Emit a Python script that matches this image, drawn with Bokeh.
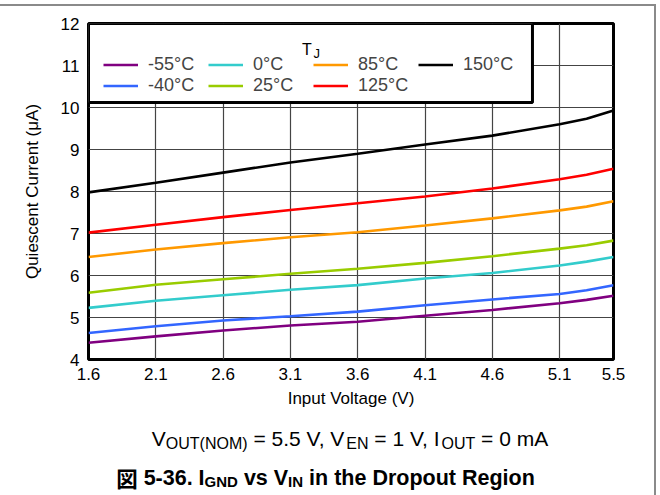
from bokeh.plotting import figure
from bokeh.layouts import column
from bokeh.models import Legend, LegendItem, FixedTicker, Range1d, BoxAnnotation
from bokeh.core.properties import value
from bokeh.embed import file_html
from bokeh.resources import INLINE

# ---------------- data ----------------
vin = [1.6, 2.1, 2.6, 3.1, 3.6, 4.1, 4.6, 5.1, 5.3, 5.5]
iq_m55 = [4.40, 4.55, 4.69, 4.81, 4.90, 5.04, 5.18, 5.34, 5.42, 5.52]
iq_m40 = [4.63, 4.79, 4.93, 5.03, 5.14, 5.29, 5.43, 5.56, 5.65, 5.77]
iq_0 = [5.23, 5.40, 5.53, 5.66, 5.77, 5.93, 6.06, 6.24, 6.33, 6.44]
iq_25 = [5.59, 5.78, 5.91, 6.04, 6.16, 6.30, 6.46, 6.64, 6.72, 6.83]
iq_85 = [6.44, 6.62, 6.77, 6.91, 7.03, 7.19, 7.36, 7.55, 7.64, 7.77]
iq_125 = [7.02, 7.21, 7.39, 7.56, 7.72, 7.88, 8.07, 8.29, 8.40, 8.54]
iq_150 = [7.98, 8.21, 8.45, 8.69, 8.90, 9.12, 9.33, 9.60, 9.73, 9.93]

series_labels = ["-55°C", "-40°C", "0°C", "25°C", "85°C", "125°C", "150°C"]
series_values = [iq_m55, iq_m40, iq_0, iq_25, iq_85, iq_125, iq_150]
series_colors = ["#800080", "#3366ff", "#33cccc", "#99cc00", "#ff9900", "#ff0000", "#000000"]

x_ticks = [1.6, 2.1, 2.6, 3.1, 3.6, 4.1, 4.6, 5.1, 5.5]
x_tick_labels = ["1.6", "2.1", "2.6", "3.1", "3.6", "4.1", "4.6", "5.1", "5.5"]
y_ticks = [4, 5, 6, 7, 8, 9, 10, 11, 12]

x_label = "Input Voltage (V)"
y_label = "Quiescent Current (μA)"
legend_title = ("T", "J")
subtitle_parts = [("V", False), ("OUT(NOM)", True), (" = 5.5 V, V", False), ("EN", True),
                  (" = 1 V, I", False), ("OUT", True), (" = 0 mA", False)]
caption_parts = [("図", "cjk"), (" 5-36. I", "main"), ("GND", "sub"), (" vs V", "main"),
                 ("IN", "sub"), (" in the Dropout Region", "main")]

FONT = "Liberation Sans"

# Arial-compatible advance widths (1/1000 em)
W_REG = {' ': 278, '=': 584, '.': 278, ',': 278, '0': 556, '1': 556, '2': 556, '3': 556, '4': 556,
         '5': 556, '6': 556, '7': 556, '8': 556, '9': 556, 'V': 667, 'O': 778, 'U': 722, 'T': 611,
         '(': 333, ')': 333, 'N': 722, 'M': 833, 'E': 667, 'I': 278, 'm': 833, 'A': 667}
W_BOLD = {' ': 278, '-': 333, '.': 278, '0': 556, '1': 556, '2': 556, '3': 556, '4': 556, '5': 556,
          '6': 556, '7': 556, '8': 556, '9': 556, 'I': 278, 'G': 778, 'N': 722, 'D': 722, 'v': 556,
          's': 556, 'V': 667, 'i': 278, 'n': 611, 't': 333, 'h': 611, 'e': 556, 'r': 389, 'o': 611,
          'p': 611, 'u': 611, 'R': 722, 'g': 611}


def tw(s, size, table):
    return sum(table.get(c, 1000) for c in s) * size / 1000.0


WIDTH = 654
TOP, FRAME_W, FRAME_H, BOTTOM = 17, 525, 336, 60
LEFT = 88
RIGHT = WIDTH - LEFT - FRAME_W
CAP_H = 76

# ---------------- main figure ----------------
p = figure(frame_width=FRAME_W, frame_height=FRAME_H,
           min_border_left=LEFT, min_border_right=RIGHT,
           min_border_top=TOP, min_border_bottom=BOTTOM,
           x_range=Range1d(1.6, 5.5), y_range=Range1d(4, 12),
           output_backend="svg", toolbar_location=None)

p.background_fill_color = "white"
p.border_fill_color = "white"
p.outline_line_color = "black"
p.outline_line_width = 3

p.xaxis.ticker = FixedTicker(ticks=x_ticks)
p.xaxis.major_label_overrides = {t: l for t, l in zip(x_ticks, x_tick_labels)}
p.yaxis.ticker = FixedTicker(ticks=y_ticks)

for ax in (p.xaxis[0], p.yaxis[0]):
    ax.axis_line_color = None
    ax.major_tick_line_color = None
    ax.minor_tick_line_color = None
    ax.major_tick_out = 0
    ax.major_tick_in = 0
    ax.major_label_text_font = FONT
    ax.major_label_text_font_size = "17px"
    ax.major_label_text_color = "black"
    ax.axis_label_text_font = FONT
    ax.axis_label_text_font_size = "17px"
    ax.axis_label_text_font_style = "normal"
    ax.axis_label_text_color = "black"

p.xaxis.axis_label = x_label
p.yaxis.axis_label = y_label
p.xaxis.major_label_standoff = 8
p.xaxis.axis_label_standoff = 6
p.yaxis.major_label_standoff = 9
p.yaxis.axis_label_standoff = 16

p.xgrid.ticker = FixedTicker(ticks=x_ticks)
p.ygrid.ticker = FixedTicker(ticks=y_ticks)
p.grid.grid_line_color = "#444444"
p.grid.grid_line_width = 1.2

# white legend panel (covers the grid), drawn just above the grid lines
legend_box = BoxAnnotation(left=1.6, right=4.898, bottom=10.12, top=12.0, level="underlay",
                           fill_color="white", fill_alpha=1.0,
                           line_color="black", line_width=3, line_alpha=1.0)
p.add_layout(legend_box)

renderers = []
for lab, vals, col in zip(series_labels, series_values, series_colors):
    r = p.line(vin, vals, line_color=col, line_width=2.6)
    renderers.append(r)

# legend title T_J as text glyphs
p.text(x=[3.186], y=[11.381], text=[legend_title[0]], text_font=value(FONT),
       text_font_size=value("16px"), text_baseline="alphabetic", text_align="left",
       text_color="black")
p.text(x=[3.271], y=[11.286], text=[legend_title[1]], text_font=value(FONT),
       text_font_size=value("13px"), text_baseline="alphabetic", text_align="left",
       text_color="black")

legend = Legend(items=[LegendItem(label=l, renderers=[r]) for l, r in zip(series_labels, renderers)],
                location="top_left", orientation="vertical", nrows=2,
                glyph_width=35, glyph_height=15, label_height=15, label_width=60,
                label_standoff=10, spacing=0, padding=0, margin=15,
                border_line_color=None, background_fill_alpha=0.0,
                label_text_font=FONT, label_text_font_size="18px", label_text_line_height=1.05,
                title=" ", title_text_font_size="10px", title_standoff=5)
p.add_layout(legend, "center")

# ---------------- caption figure (texts below the chart) ----------------
q = figure(frame_width=FRAME_W, frame_height=CAP_H,
           min_border_left=LEFT, min_border_right=RIGHT, min_border_top=0, min_border_bottom=0,
           x_range=Range1d(LEFT, LEFT + FRAME_W), y_range=Range1d(CAP_H, 0),
           x_axis_type=None, y_axis_type=None, output_backend="svg", toolbar_location=None)
q.outline_line_color = None
q.background_fill_color = "white"
q.border_fill_color = "white"
q.grid.visible = False


def put(fig, x, y, s, font, size, style, table_w):
    """Place a text piece; leading spaces become an x offset (SVG collapses them)."""
    stripped = s.lstrip(" ")
    lead = (len(s) - len(stripped)) * 0.278 * size
    r = fig.text(x=[x + lead], y=[y], text=[stripped], text_font=value(font),
                 text_font_size=value(f"{size}px"), text_font_style=style,
                 text_baseline="alphabetic", text_align="left", text_color="black")
    r.level = "overlay"
    return x + table_w


# subtitle with subscripts
SUB_MAIN, SUB_SUB = 21, 16
total = sum(tw(s, SUB_SUB if sub else SUB_MAIN, W_REG) for s, sub in subtitle_parts)
x = 349.5 - total / 2
for s, sub in subtitle_parts:
    size = SUB_SUB if sub else SUB_MAIN
    x = put(q, x, 24 if sub else 19, s, FONT, size, "normal", tw(s, size, W_REG))

# caption
CAP_MAIN, CAP_SUB = 21.5, 15


def cap_w(s, kind):
    if kind == "cjk":
        return CAP_MAIN * len(s)
    return tw(s, CAP_SUB if kind == "sub" else CAP_MAIN, W_BOLD)


total = sum(cap_w(s, k) for s, k in caption_parts)
x = 325 - total / 2
for s, k in caption_parts:
    size = CAP_SUB if k == "sub" else CAP_MAIN
    font = "Noto Sans CJK JP" if k == "cjk" else FONT
    x = put(q, x, 62 if k == "sub" else 58, s, font, size, "bold", cap_w(s, k))

layout = column(p, q, spacing=0,
                styles={"margin-top": "4px", "border-top": "2px solid #8a8a8a",
                        "border-right": "2px solid #8a8a8a"})

open("out.html", "w").write(file_html(layout, INLINE))
